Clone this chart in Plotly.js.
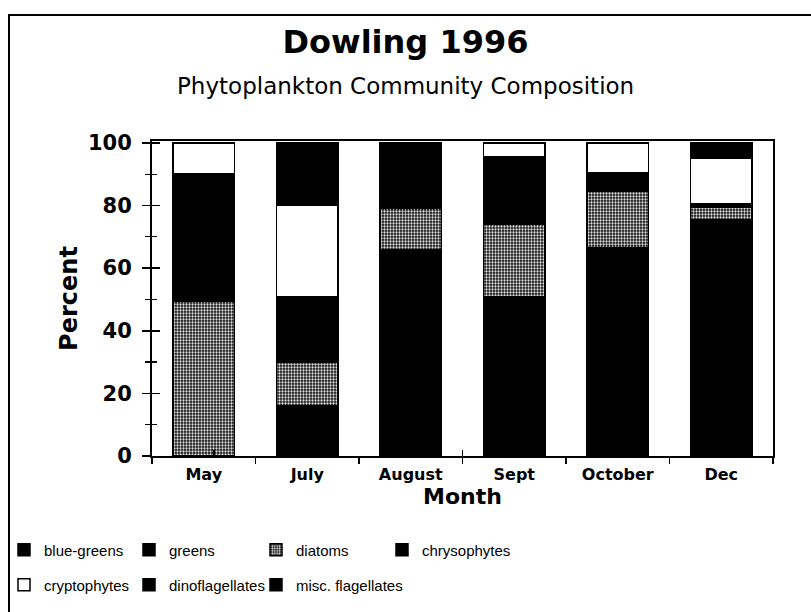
<!DOCTYPE html>
<html><head><meta charset="utf-8">
<script src="https://cdn.plot.ly/plotly-3.0.1.min.js"></script>
<style>
html,body{margin:0;padding:0;background:#fff;}
#chart{width:811px;height:612px;}
#frame{position:absolute;left:8px;top:14px;width:806px;height:640px;border-left:2px solid #000;border-top:2px solid #000;pointer-events:none;}
</style></head>
<body>
<div id="chart"></div>
<div id="frame"></div>
<script>
const months = ["May", "July", "August", "Sept", "October", "Dec"];
const blueGreens = [0, 10, 52, 40, 55, 64];
const greens = [0, 6, 14, 11, 11.5, 11.5];
const diatoms = [49.5, 14, 13, 23, 18, 4];
const chrysophytes = [40.5, 21, 21, 21.5, 6, 1];
const cryptophytes = [10, 29, 0, 4.5, 9.5, 14.5];
const dinoflagellates = [0, 14, 0, 0, 0, 3];
const miscFlagellates = [0, 6, 0, 0, 0, 2];
const yTicks = [0, 20, 40, 60, 80, 100];

const line = {color: '#000', width: 1.5};
function bar(name, y, color, legend, pattern) {
  const m = {color: color, line: line};
  if (pattern) m.pattern = pattern;
  return {type: 'bar', name: name, x: months, y: y, marker: m, legend: legend, hoverinfo: 'name+y'};
}
const traces = [
  bar('blue-greens', blueGreens, '#000', 'legend'),
  bar('greens', greens, '#000', 'legend2'),
  bar('diatoms', diatoms, '#000', 'legend3', {shape: '.', bgcolor: '#111', fgcolor: '#e0e0e0', size: 3, solidity: 0.45}),
  bar('chrysophytes', chrysophytes, '#000', 'legend4'),
  bar('cryptophytes', cryptophytes, '#fff', 'legend5'),
  bar('dinoflagellates', dinoflagellates, '#000', 'legend6'),
  bar('misc. flagellates', miscFlagellates, '#000', 'legend7'),
  // transparent helper so the overlaid axes (inner half of the crossing tick marks) get drawn
  {type: 'scatter', mode: 'lines', x: months, y: blueGreens, xaxis: 'x2', yaxis: 'y2', opacity: 0,
   showlegend: false, hoverinfo: 'skip'}
];

const legFont = {family: 'Liberation Sans, Arial', size: 15, color: '#000'};
function leg(px, py) {
  return {orientation: 'h', xref: 'container', yref: 'container', x: px / 811, xanchor: 'left',
    y: 1 - py / 612, yanchor: 'middle', font: legFont, bgcolor: 'rgba(0,0,0,0)', borderwidth: 0};
}
const bold = 'DejaVu Sans, Liberation Sans, Arial';
const layout = {
  width: 811, height: 612,
  margin: {l: 152, r: 38, t: 141, b: 156},
  paper_bgcolor: '#fff', plot_bgcolor: '#fff',
  barmode: 'stack', bargap: 0.41,
  font: {family: 'Liberation Sans, Arial, sans-serif', color: '#000'},
  title: {
    text: '<b>Dowling 1996</b>',
    font: {size: 32, family: bold},
    x: 0.5, xanchor: 'center', xref: 'container',
    y: 1 - 42 / 612, yanchor: 'middle', yref: 'container'
  },
  annotations: [{
    text: 'Phytoplankton Community Composition', showarrow: false,
    xref: 'paper', yref: 'paper', x: (405 - 152) / 621, y: (456 - 86) / 315, xanchor: 'center', yanchor: 'middle',
    font: {size: 23, family: bold, color: '#000'}
  }],
  xaxis: {
    type: 'category', tickson: 'boundaries', ticks: 'outside', ticklen: 6, tickcolor: '#000', tickwidth: 1.5,
    showline: true, linecolor: '#000', linewidth: 2, mirror: true, showgrid: false, tickangle: 0,
    tickfont: {size: 16, family: bold, weight: 'bold'}, ticklabelstandoff: 3,
    title: {text: '<b>Month</b>', font: {size: 22, family: bold}, standoff: 2}
  },
  xaxis2: {
    type: 'category', overlaying: 'x', side: 'bottom', anchor: 'y', tickson: 'boundaries',
    ticks: 'inside', ticklen: 6, tickwidth: 1.5, tickcolor: '#000', showticklabels: false,
    showline: false, showgrid: false, zeroline: false
  },
  yaxis: {
    range: [0, 100.6], tickvals: yTicks, ticks: 'outside', ticklen: 8, tickwidth: 1.5, tickcolor: '#000',
    minor: {dtick: 10, tick0: 0, ticks: 'outside', ticklen: 5, tickcolor: '#000', tickwidth: 1.2, showgrid: false},
    showline: true, linecolor: '#000', linewidth: 2, mirror: true, showgrid: false, zeroline: false,
    tickfont: {size: 21, family: bold, weight: 'bold'}, ticklabelstandoff: 6,
    title: {text: '<b>Percent</b>', font: {size: 24, family: bold}, standoff: 4}
  },
  yaxis2: {
    overlaying: 'y', anchor: 'x', side: 'left', range: [0, 100.6], tickvals: yTicks,
    ticks: 'inside', ticklen: 8, tickwidth: 1.5, tickcolor: '#000', showticklabels: false,
    minor: {dtick: 10, tick0: 0, ticks: 'inside', ticklen: 5, tickcolor: '#000', tickwidth: 1.2, showgrid: false},
    showline: false, showgrid: false, zeroline: false
  },
  legend: leg(4, 550), legend2: leg(129, 550), legend3: leg(256, 550), legend4: leg(382, 550),
  legend5: leg(4, 585), legend6: leg(129, 585), legend7: leg(256, 585),
  showlegend: true
};
Plotly.newPlot('chart', traces, layout, {displayModeBar: false, staticPlot: true});
</script>
</body></html>
